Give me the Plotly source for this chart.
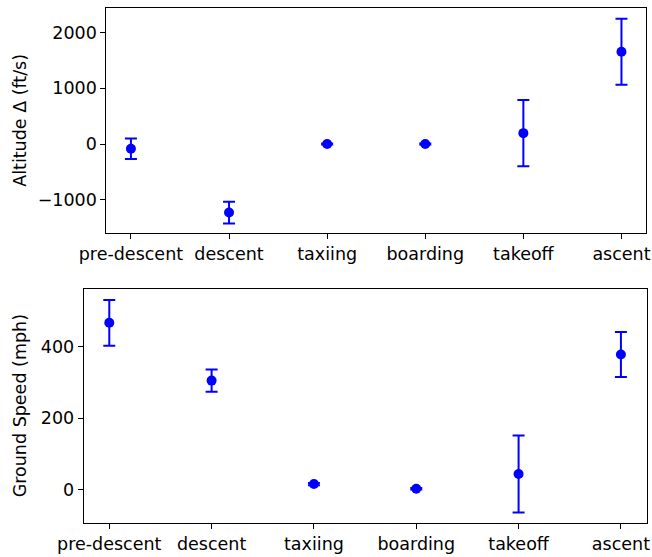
import plotly.graph_objects as go

phases = ["pre-descent", "descent", "taxiing", "boarding", "takeoff", "ascent"]

alt_mean = [-85, -1230, 0, 0, 195, 1655]
alt_err = [185, 195, 8, 8, 593, 593]

speed_mean = [467, 305, 15, 2, 43, 378]
speed_err = [64, 31, 3, 2, 108, 63]

alt_ticks = [-1000, 0, 1000, 2000]
speed_ticks = [0, 200, 400]

W, H = 652, 557
BLUE = "#0000ff"
FONT = "DejaVu Sans"
FS = 17.5

fig = go.Figure()

def add_series(x, y, err, xa, ya):
    fig.add_trace(go.Scatter(
        x=x, y=y, mode="markers", xaxis=xa, yaxis=ya,
        marker=dict(color=BLUE, size=10),
        error_y=dict(type="data", array=err, visible=True,
                     color=BLUE, thickness=2, width=6),
        showlegend=False, hoverinfo="skip",
    ))

add_series(phases, alt_mean, alt_err, "x", "y")
add_series(phases, speed_mean, speed_err, "x2", "y2")

axis_common = dict(
    showgrid=False, zeroline=False, showline=True, mirror=True,
    linecolor="black", linewidth=1, ticks="outside", ticklen=5,
    tickwidth=1, tickcolor="black", automargin=False,
    tickfont=dict(family=FONT, size=FS, color="black"),
)

top_y = [1 - 233.3 / H, 1 - 8.3 / H]
bot_y = [1 - 523.3 / H, 1 - 289.3 / H]

fig.update_layout(
    template="none",
    width=W, height=H,
    margin=dict(l=0, r=0, t=0, b=0, pad=0),
    paper_bgcolor="white", plot_bgcolor="white",
    font=dict(family=FONT, size=FS, color="black"),
    xaxis=dict(axis_common, domain=[106.4 / W, 646 / W], anchor="y",
               type="category", range=[-0.25, 5.25]),
    yaxis=dict(axis_common, domain=top_y, anchor="x",
               range=[-1603, 2436], tickvals=alt_ticks),
    xaxis2=dict(axis_common, domain=[83.7 / W, 646.5 / W], anchor="y2",
                type="category", range=[-0.25, 5.25]),
    yaxis2=dict(axis_common, domain=bot_y, anchor="x2",
                range=[-95, 561], tickvals=speed_ticks),
    annotations=[
        dict(text="Altitude Δ (ft/s)", textangle=-90, showarrow=False,
             xref="paper", yref="paper", x=20 / W, y=sum(top_y) / 2,
             xanchor="center", yanchor="middle",
             font=dict(family=FONT, size=FS, color="black")),
        dict(text="Ground Speed (mph)", textangle=-90, showarrow=False,
             xref="paper", yref="paper", x=20 / W, y=sum(bot_y) / 2,
             xanchor="center", yanchor="middle",
             font=dict(family=FONT, size=FS, color="black")),
    ],
)

fig.write_html(
    "out.html",
    config={"displayModeBar": False, "staticPlot": True},
    post_script="document.body.style.margin='0';document.body.style.overflow='hidden';",
)
